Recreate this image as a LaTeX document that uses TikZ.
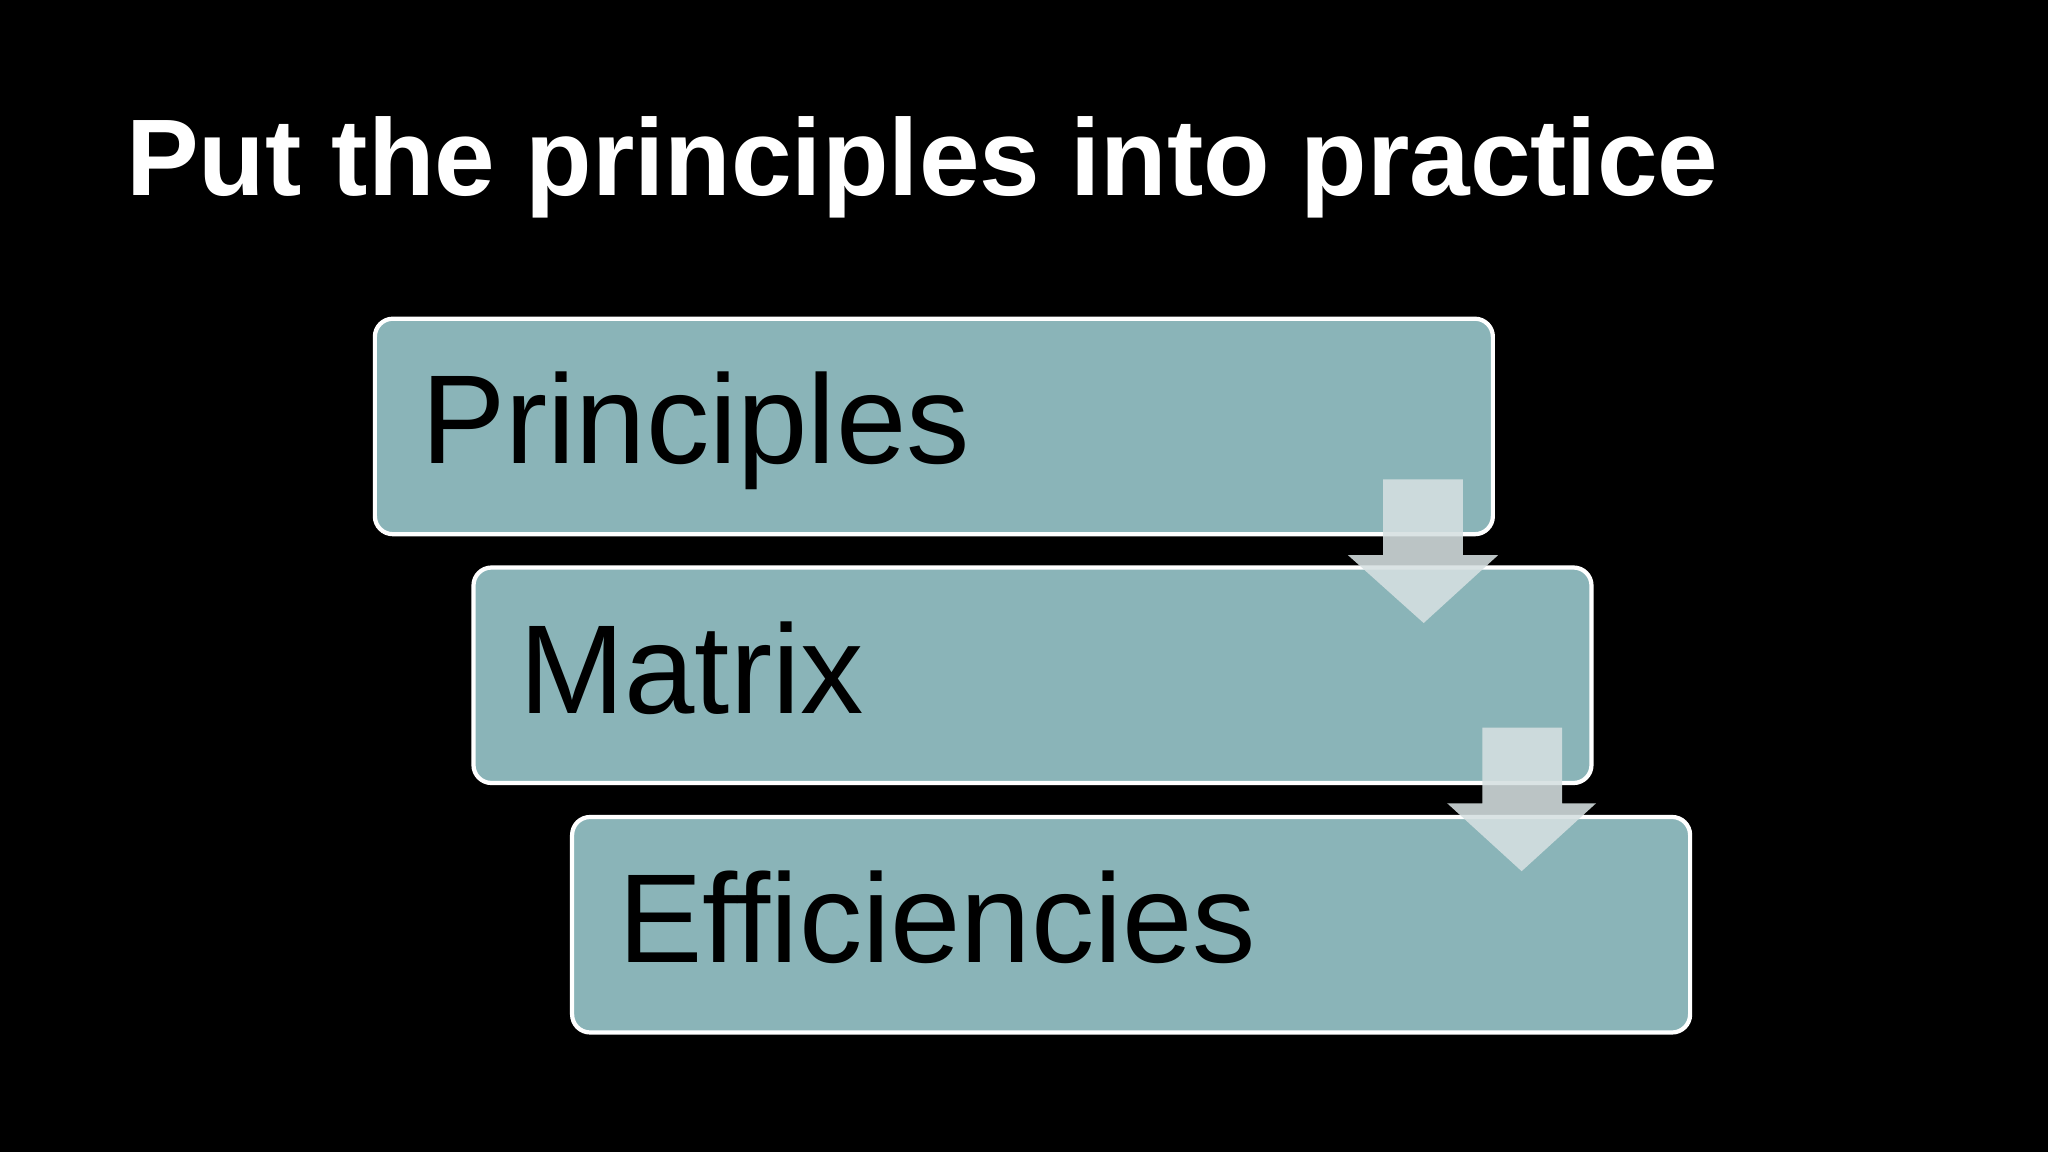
\documentclass[tikz,border=0pt]{standalone}
\usepackage{fontspec}
\setmainfont{Liberation Sans}
\begin{document}
\begin{tikzpicture}[x=0.01306cm,y=-0.01306cm,
  box/.style={draw=white,line width=1.2pt,fill=boxfill,rounded corners=0.18cm,minimum width=11.18cm,minimum height=2.155cm,inner sep=0pt},
  lbl/.style={anchor=base west,inner sep=0pt,font=\fontsize{36}{40}\selectfont,text=black},
  arr/.style={fill=arrfill,fill opacity=0.88,draw=none}]
\definecolor{boxfill}{HTML}{8AB4B8}
\definecolor{arrfill}{HTML}{D6E0E1}
\fill[black] (0,0) rectangle (1568,882);
\useasboundingbox (0,0) rectangle (1568,882);
\node[anchor=base west,inner sep=0pt,text=white,font=\bfseries\fontsize{31}{36}\selectfont] (title) at (96,150) {Put the principles into practice};
\node[box] (b1) at (715,326.5) {};
\node[box] (b2) at (790.5,517) {};
\node[box] (b3) at (866,708) {};
\node[lbl] (t1) at (322,355) {Principles};
\node[lbl] (t2) at (397,546) {Matrix};
\node[lbl] (t3) at (473,737) {Efficiencies};
\fill[arr] (1059,367) -- (1120,367) -- (1120,425) -- (1147,425) -- (1090,477) -- (1032,425) -- (1059,425) -- cycle;
\fill[arr] (1135,557) -- (1196,557) -- (1196,615) -- (1222,615) -- (1165,667) -- (1108,615) -- (1135,615) -- cycle;
\end{tikzpicture}
\end{document}
